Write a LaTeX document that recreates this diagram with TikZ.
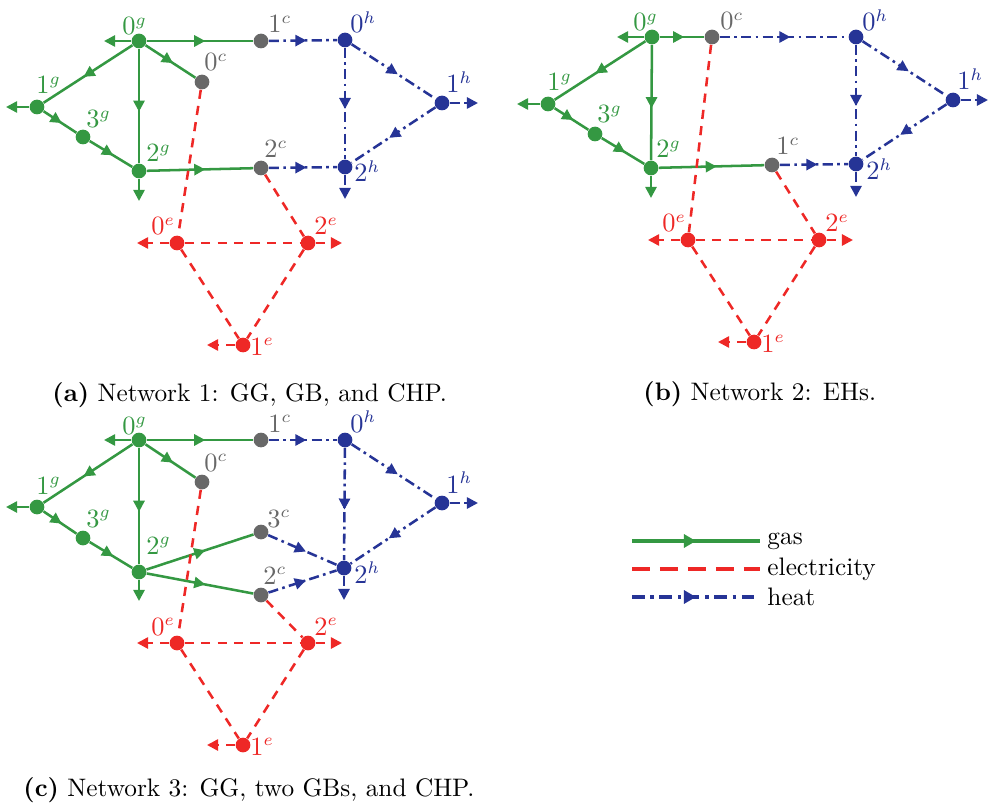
\documentclass[tikz,border=0pt]{standalone}
\usetikzlibrary{arrows.meta,decorations.markings}

\definecolor{gasc}{RGB}{52,152,66}
\definecolor{elecc}{RGB}{238,40,38}
\definecolor{heatc}{RGB}{38,52,150}
\definecolor{convc}{RGB}{104,104,104}

\tikzset{
  x=0.415pt, y=-0.415pt,
  tipshape/.tip={Triangle[length=4.6pt,width=4.6pt]},
  dotnode/.style={circle, fill=#1, inner sep=0pt, minimum size=6.1pt},
  gnode/.style={dotnode=gasc},
  enode/.style={dotnode=elecc},
  hnode/.style={dotnode=heatc},
  cnode/.style={dotnode=convc},
  lbl/.style={inner sep=0pt, anchor=base west, font=\fontsize{10.5}{12}\selectfont},
  glbl/.style={lbl, text=gasc},
  elbl/.style={lbl, text=elecc},
  hlbl/.style={lbl, text=heatc},
  clbl/.style={lbl, text=convc},
  gasline/.style={draw=gasc, line width=1.05pt},
  elecline/.style={draw=elecc, line width=1.05pt, dash pattern=on 3.8pt off 3pt},
  heatline/.style={draw=heatc, line width=1.05pt, dash pattern=on 4.2pt off 1.8pt on 1.1pt off 1.8pt},
  midarrow/.style={postaction={decorate}, decoration={markings,
      mark=at position 0.55 with {\arrow{tipshape}}}},
  endarrow/.style={-tipshape},
  caption/.style={inner sep=0pt, anchor=base west, font=\fontsize{10.5}{12.5}\selectfont},
  legtext/.style={inner sep=0pt, anchor=base west, font=\fontsize{10.5}{12}\selectfont},
}

\begin{document}
\begin{tikzpicture}
\useasboundingbox (0,0) rectangle (988,811);

% ---------------- Network 1 ----------------
\node[gnode] (a0g) at (139,41) {};
\node[gnode] (a1g) at (37,107) {};
\node[gnode] (a3g) at (83,137) {};
\node[gnode] (a2g) at (139,171) {};
\node[cnode] (a0c) at (202,82) {};
\node[cnode] (a1c) at (261,41) {};
\node[cnode] (a2c) at (261,168) {};
\node[hnode] (a0h) at (345,40) {};
\node[hnode] (a1h) at (442,103) {};
\node[hnode] (a2h) at (345,167) {};
\node[enode] (a0e) at (177,243) {};
\node[enode] (a2e) at (308,243) {};
\node[enode] (a1e) at (243,345) {};
\coordinate (a0gx) at (104,41);
\coordinate (a1gx) at (6,107);
\coordinate (a2gx) at (139,201);
\coordinate (a1hx) at (478,103);
\coordinate (a2hx) at (345,199);
\coordinate (a0ex) at (137,243);
\coordinate (a2ex) at (342,243);
\coordinate (a1ex) at (207,345);

\draw[gasline, midarrow] (a0g) -- (a1c);
\draw[gasline, midarrow] (a0g) -- (a1g);
\draw[gasline, midarrow] (a0g) -- (a0c);
\draw[gasline, midarrow] (a0g) -- (a2g);
\draw[gasline, midarrow] (a1g) -- (a3g);
\draw[gasline, midarrow] (a3g) -- (a2g);
\draw[gasline, midarrow] (a2g) -- (a2c);
\draw[gasline, endarrow] (a0g) -- (a0gx);
\draw[gasline, endarrow] (a1g) -- (a1gx);
\draw[gasline, endarrow] (a2g) -- (a2gx);
\draw[heatline, midarrow] (a1c) -- (a0h);
\draw[heatline, midarrow] (a2c) -- (a2h);
\draw[heatline, midarrow] (a0h) -- (a1h);
\draw[heatline, midarrow] (a0h) -- (a2h);
\draw[heatline, midarrow] (a1h) -- (a2h);
\draw[heatline, endarrow] (a1h) -- (a1hx);
\draw[heatline, endarrow] (a2h) -- (a2hx);
\draw[elecline] (a0c) -- (a0e);
\draw[elecline] (a2c) -- (a2e);
\draw[elecline] (a0e) -- (a2e);
\draw[elecline] (a0e) -- (a1e);
\draw[elecline] (a2e) -- (a1e);
\draw[elecline, endarrow] (a0e) -- (a0ex);
\draw[elecline, endarrow] (a2e) -- (a2ex);
\draw[elecline, endarrow] (a1e) -- (a1ex);

\node[glbl] (a0gL) at (122,35) {$0^{g}$};
\node[glbl] (a1gL) at (36,94) {$1^{g}$};
\node[glbl] (a3gL) at (86,128) {$3^{g}$};
\node[glbl] (a2gL) at (146,162) {$2^{g}$};
\node[clbl] (a0cL) at (204,71) {$0^{c}$};
\node[clbl] (a1cL) at (268,33) {$1^{c}$};
\node[clbl] (a2cL) at (264,158) {$2^{c}$};
\node[hlbl] (a0hL) at (350,33) {$0^{h}$};
\node[hlbl] (a1hL) at (446,93) {$1^{h}$};
\node[hlbl] (a2hL) at (354,182) {$2^{h}$};
\node[elbl] (a0eL) at (151,235) {$0^{e}$};
\node[elbl] (a2eL) at (314,235) {$2^{e}$};
\node[elbl] (a1eL) at (250,355) {$1^{e}$};

\node[caption] (capA) at (52,401) {\textbf{(a)} Network 1: GG, GB, and CHP.};

% ---------------- Network 2 ----------------
\node[gnode] (b0g) at (652,37) {};
\node[gnode] (b1g) at (548,104) {};
\node[gnode] (b3g) at (595,134) {};
\node[gnode] (b2g) at (651,168) {};
\node[cnode] (b0c) at (712,37) {};
\node[cnode] (b1c) at (772,165) {};
\node[hnode] (b0h) at (856,37) {};
\node[hnode] (b1h) at (953,100) {};
\node[hnode] (b2h) at (856,164) {};
\node[enode] (b0e) at (688,240) {};
\node[enode] (b2e) at (819,240) {};
\node[enode] (b1e) at (754,342) {};
\coordinate (b0gx) at (617,37);
\coordinate (b1gx) at (517,104);
\coordinate (b2gx) at (651,198);
\coordinate (b1hx) at (988,100);
\coordinate (b2hx) at (856,197);
\coordinate (b0ex) at (648,240);
\coordinate (b2ex) at (853,240);
\coordinate (b1ex) at (718,342);

\draw[gasline, midarrow] (b0g) -- (b0c);
\draw[gasline, midarrow] (b0g) -- (b1g);
\draw[gasline, midarrow] (b0g) -- (b2g);
\draw[gasline, midarrow] (b1g) -- (b3g);
\draw[gasline, midarrow] (b3g) -- (b2g);
\draw[gasline, midarrow] (b2g) -- (b1c);
\draw[gasline, endarrow] (b0g) -- (b0gx);
\draw[gasline, endarrow] (b1g) -- (b1gx);
\draw[gasline, endarrow] (b2g) -- (b2gx);
\draw[heatline, midarrow] (b0c) -- (b0h);
\draw[heatline, midarrow] (b1c) -- (b2h);
\draw[heatline, midarrow] (b0h) -- (b1h);
\draw[heatline, midarrow] (b0h) -- (b2h);
\draw[heatline, midarrow] (b1h) -- (b2h);
\draw[heatline, endarrow] (b1h) -- (b1hx);
\draw[heatline, endarrow] (b2h) -- (b2hx);
\draw[elecline] (b0c) -- (b0e);
\draw[elecline] (b1c) -- (b2e);
\draw[elecline] (b0e) -- (b2e);
\draw[elecline] (b0e) -- (b1e);
\draw[elecline] (b2e) -- (b1e);
\draw[elecline, endarrow] (b0e) -- (b0ex);
\draw[elecline, endarrow] (b2e) -- (b2ex);
\draw[elecline, endarrow] (b1e) -- (b1ex);

\node[glbl] (b0gL) at (633,31) {$0^{g}$};
\node[glbl] (b1gL) at (547,91) {$1^{g}$};
\node[glbl] (b3gL) at (597,123) {$3^{g}$};
\node[glbl] (b2gL) at (656,158) {$2^{g}$};
\node[clbl] (b0cL) at (720,30) {$0^{c}$};
\node[clbl] (b1cL) at (776,155) {$1^{c}$};
\node[hlbl] (b0hL) at (862,31) {$0^{h}$};
\node[hlbl] (b1hL) at (957,90) {$1^{h}$};
\node[hlbl] (b2hL) at (866,180) {$2^{h}$};
\node[elbl] (b0eL) at (662,232) {$0^{e}$};
\node[elbl] (b2eL) at (825,232) {$2^{e}$};
\node[elbl] (b1eL) at (761,352) {$1^{e}$};

\node[caption] (capB) at (643,400) {\textbf{(b)} Network 2: EHs.};

% ---------------- Network 3 ----------------
\node[gnode] (c0g) at (139,440) {};
\node[gnode] (c1g) at (37,507) {};
\node[gnode] (c3g) at (83,538) {};
\node[gnode] (c2g) at (139,572) {};
\node[cnode] (c0c) at (202,482) {};
\node[cnode] (c1c) at (261,440) {};
\node[cnode] (c3c) at (261,532) {};
\node[cnode] (c2c) at (261,595) {};
\node[hnode] (c0h) at (345,440) {};
\node[hnode] (c1h) at (442,503) {};
\node[hnode] (c2h) at (344,568) {};
\node[enode] (c0e) at (177,643) {};
\node[enode] (c2e) at (308,643) {};
\node[enode] (c1e) at (243,745) {};
\coordinate (c0gx) at (104,440);
\coordinate (c1gx) at (6,507);
\coordinate (c2gx) at (139,601);
\coordinate (c1hx) at (478,503);
\coordinate (c2hx) at (344,600);
\coordinate (c0ex) at (137,643);
\coordinate (c2ex) at (342,643);
\coordinate (c1ex) at (207,745);

\draw[gasline, midarrow] (c0g) -- (c1c);
\draw[gasline, midarrow] (c0g) -- (c1g);
\draw[gasline, midarrow] (c0g) -- (c0c);
\draw[gasline, midarrow] (c0g) -- (c2g);
\draw[gasline, midarrow] (c1g) -- (c3g);
\draw[gasline, midarrow] (c3g) -- (c2g);
\draw[gasline, midarrow] (c2g) -- (c3c);
\draw[gasline, midarrow] (c2g) -- (c2c);
\draw[gasline, endarrow] (c0g) -- (c0gx);
\draw[gasline, endarrow] (c1g) -- (c1gx);
\draw[gasline, endarrow] (c2g) -- (c2gx);
\draw[heatline, midarrow] (c1c) -- (c0h);
\draw[heatline, midarrow] (c3c) -- (c2h);
\draw[heatline, midarrow] (c2c) -- (c2h);
\draw[heatline, midarrow] (c0h) -- (c1h);
\draw[heatline, midarrow] (c0h) -- (c2h);
\draw[heatline, midarrow] (c1h) -- (c2h);
\draw[heatline, endarrow] (c1h) -- (c1hx);
\draw[heatline, endarrow] (c2h) -- (c2hx);
\draw[elecline] (c0c) -- (c0e);
\draw[elecline] (c2c) -- (c2e);
\draw[elecline] (c0e) -- (c2e);
\draw[elecline] (c0e) -- (c1e);
\draw[elecline] (c2e) -- (c1e);
\draw[elecline, endarrow] (c0e) -- (c0ex);
\draw[elecline, endarrow] (c2e) -- (c2ex);
\draw[elecline, endarrow] (c1e) -- (c1ex);

\node[glbl] (c0gL) at (122,434) {$0^{g}$};
\node[glbl] (c1gL) at (36,494) {$1^{g}$};
\node[glbl] (c3gL) at (86,527) {$3^{g}$};
\node[glbl] (c2gL) at (146,554) {$2^{g}$};
\node[clbl] (c0cL) at (204,471) {$0^{c}$};
\node[clbl] (c1cL) at (268,432) {$1^{c}$};
\node[clbl] (c3cL) at (267,527) {$3^{c}$};
\node[clbl] (c2cL) at (263,584) {$2^{c}$};
\node[hlbl] (c0hL) at (350,432) {$0^{h}$};
\node[hlbl] (c1hL) at (446,493) {$1^{h}$};
\node[hlbl] (c2hL) at (354,583) {$2^{h}$};
\node[elbl] (c0eL) at (151,635) {$0^{e}$};
\node[elbl] (c2eL) at (314,635) {$2^{e}$};
\node[elbl] (c1eL) at (250,755) {$1^{e}$};

\node[caption] (capC) at (23,796) {\textbf{(c)} Network 3: GG, two GBs, and CHP.};

% ---------------- Legend ----------------
\coordinate (lg1) at (632,541);
\coordinate (lg2) at (760,541);
\coordinate (le1) at (632,569);
\coordinate (le2) at (760,569);
\coordinate (lh1) at (632,597);
\coordinate (lh2) at (760,597);
\draw[gasline, line width=1.4pt, postaction={decorate}, decoration={markings,
    mark=at position 0.5 with {\arrow{Triangle[length=5pt,width=5.4pt]}}}] (lg1) -- (lg2);
\draw[elecline, line width=1.4pt, dash pattern=on 7.4pt off 4.2pt] (le1) -- (le2);
\draw[heatline, line width=1.4pt, dash pattern=on 5.2pt off 2.4pt on 1.4pt off 2.4pt,
    postaction={decorate}, decoration={markings,
    mark=at position 0.5 with {\arrow{Triangle[length=5pt,width=5.4pt]}}}] (lh1) -- (lh2);
\node[legtext] (lgT) at (767,544) {gas};
\node[legtext] (leT) at (767,575) {electricity};
\node[legtext] (lhT) at (767,605) {heat};
\end{tikzpicture}
\end{document}
